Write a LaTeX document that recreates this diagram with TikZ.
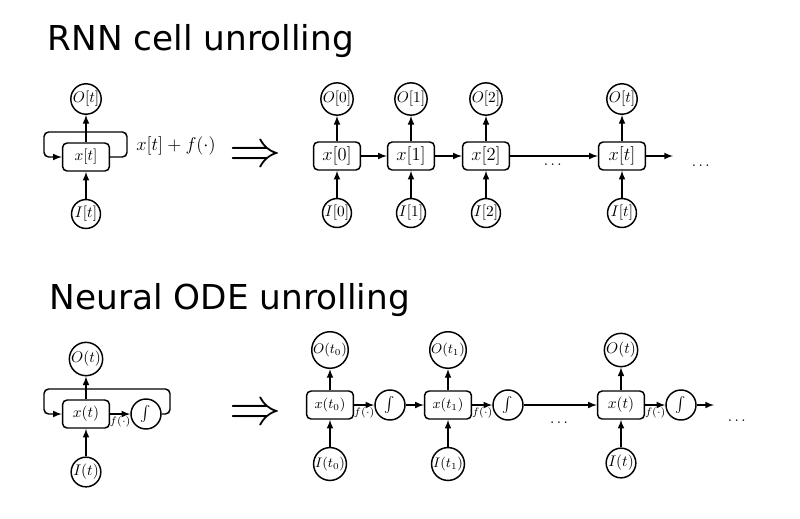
\documentclass[tikz,border=0pt]{standalone}
\usepackage{amsmath}
\usepackage{amssymb}
\usepackage{fontspec}
\newfontfamily\headfont{DejaVu Sans}
\usepackage{tikz}
\usetikzlibrary{arrows}

\begin{document}
\begin{tikzpicture}[x=0.65pt,y=-0.65pt,line width=0.95pt,
	cell/.style={draw,rounded corners=3pt,minimum width=30.5pt,minimum height=18.2pt,inner sep=1pt},
	port/.style={draw,circle,minimum size=18.8pt,inner sep=0pt},
	integ/.style={draw,circle,minimum size=19.5pt,inner sep=0pt},
	heading/.style={anchor=base west,font=\headfont\fontsize{22.3}{26}\selectfont},
	imply/.style={font=\fontsize{24.88}{30}\selectfont,inner sep=0pt},
	flabel/.style={below,font=\scriptsize,inner sep=1pt}]
			\useasboundingbox (0,0) rectangle (800,518);
			
			% RNN
			\node [heading] (rnntitle) at (42,50) {RNN cell unrolling};
			
			\node [cell] (cx) at (86,157) {$x[t]$};
			\node [port] (co) at (86,99) {$O[t]$};
			\node [port] (ci) at (86,214) {$I[t]$};
			\draw [-latex] (cx) -- (co);
			\draw [-latex] (ci) -- (cx);
			\coordinate (cr) at (127,132);
			\coordinate (cl) at (44,132);
			\draw [-latex,rounded corners=3pt] (cx.east) -| (cr) -- (cl) |- (cx.west);
			\node [font=\large] (cf) at (176,146) {$x[t]+f(\cdot)$};
			
			\node [imply] (rnnimp) at (256,157) {\scalebox{1.36}{$\Rightarrow$}};
			
			\foreach \i/\xx in {0/337,1/411,2/486} {
				\node [cell,font=\large] (x\i) at (\xx,156) {$x[\i]$};
				\node [port] (o\i) at (\xx,99) {$O[\i]$};
				\node [port] (i\i) at (\xx,213) {$I[\i]$};
				\draw [-latex] (x\i) -- (o\i);
				\draw [-latex] (i\i) -- (x\i);
			}
			\node [cell,font=\large] (xt) at (622,156) {$x[t]$};
			\node [port] (ot) at (622,99) {$O[t]$};
			\node [port] (it) at (622,213) {$I[t]$};
			\draw [-latex] (xt) -- (ot);
			\draw [-latex] (it) -- (xt);
			
			\draw [-latex] (x0) -- (x1);
			\draw [-latex] (x1) -- (x2);
			\draw [-latex] (x2) -- node [below=1pt] {$\dots$} (xt);
			\coordinate (xend) at (673,156);
			\draw [-latex] (xt) -- (xend);
			\node (xdots) at (702,166) {$\dots$};
			
			% Neural ODE
			\node [heading] (odetitle) at (44,309) {Neural ODE unrolling};
			
			\node [cell] (nx) at (86,414) {$x(t)$};
			\node [port] (no) at (86,359) {$O(t)$};
			\node [port] (ni) at (86,472) {$I(t)$};
			\node [integ] (nint) at (146,414) {$\int$};
			\draw [-latex] (nx) -- (no);
			\draw [-latex] (ni) -- (nx);
			\draw [-latex] (nx) -- node [flabel] {$f(\cdot)$} (nint);
			\coordinate (nr) at (170,389);
			\coordinate (nl) at (44,389);
			\draw [-latex,rounded corners=3pt] (nint.east) -| (nr) -- (nl) |- (nx.west);
			
			\node [imply] (odeimp) at (256,415) {\scalebox{1.36}{$\Rightarrow$}};
			
			\foreach \i/\xx in {0/330,1/448} {
				\node [cell,font=\small] (y\i) at (\xx,405) {$x(t_\i)$};
				\node [port,font=\small] (p\i) at (\xx,350) {$O(t_\i)$};
				\node [port,font=\small] (q\i) at (\xx,464) {$I(t_\i)$};
				\node [integ] (s\i) at (\xx+60,405) {$\int$};
				\draw [-latex] (y\i) -- (p\i);
				\draw [-latex] (q\i) -- (y\i);
				\draw [-latex] (y\i) -- node [flabel] {$f(\cdot)$} (s\i);
			}
			\node [cell] (yt) at (621,405) {$x(t)$};
			\node [port] (pt) at (621,350) {$O(t)$};
			\node [port] (qt) at (621,463) {$I(t)$};
			\node [integ] (st) at (681,405) {$\int$};
			\draw [-latex] (yt) -- (pt);
			\draw [-latex] (qt) -- (yt);
			\draw [-latex] (yt) -- node [flabel] {$f(\cdot)$} (st);
			
			\draw [-latex] (s0) -- (y1);
			\draw [-latex] (s1) -- node [below=7pt] {$\dots$} (yt);
			\coordinate (yend) at (714,405);
			\draw [-latex] (st) -- (yend);
			\node (ydots) at (738,421) {$\dots$};
			
\end{tikzpicture}
\end{document}
